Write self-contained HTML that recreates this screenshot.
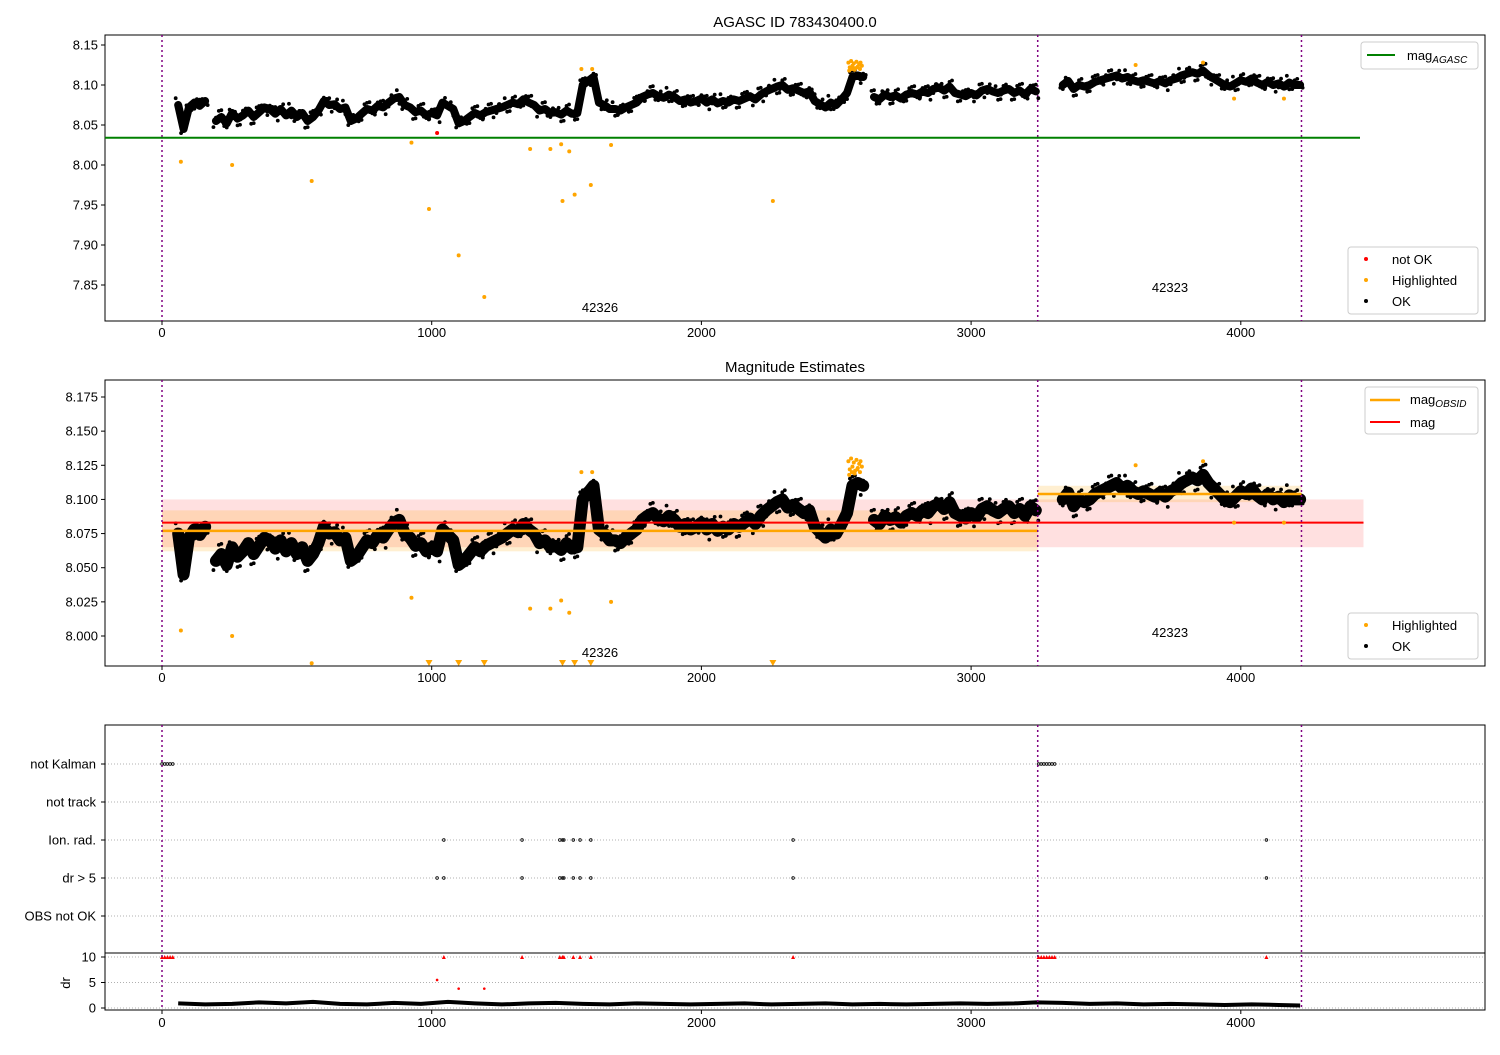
<!DOCTYPE html>
<html><head><meta charset="utf-8"><style>
body{margin:0;background:#fff}
svg text{font-family:"Liberation Sans","DejaVu Sans",sans-serif;fill:#000}
</style></head><body>
<svg id="fig" width="1500" height="1050" xmlns="http://www.w3.org/2000/svg">
<g id="g1"></g>
<g id="g2"></g>
<g id="g3"></g>
</svg>
<script>
const times=[60,80,100,120,140,160,200,220,240,260,280,300,320,340,360,380,400,420,440,460,480,500,520,540,560,580,600,620,640,660,680,700,720,740,760,780,800,820,840,860,880,900,920,940,960,980,1000,1020,1040,1060,1080,1100,1120,1140,1160,1180,1200,1220,1240,1260,1280,1300,1320,1340,1360,1380,1400,1420,1440,1460,1480,1500,1520,1540,1560,1580,1600,1620,1640,1660,1680,1700,1720,1740,1760,1780,1800,1820,1840,1860,1880,1900,1920,1940,1960,1980,2000,2020,2040,2060,2080,2100,2120,2140,2160,2180,2200,2220,2240,2260,2280,2300,2320,2340,2360,2380,2400,2420,2440,2460,2480,2500,2520,2540,2560,2580,2600,2640,2660,2680,2700,2720,2740,2760,2780,2800,2820,2840,2860,2880,2900,2920,2940,2960,2980,3000,3020,3040,3060,3080,3100,3120,3140,3160,3180,3200,3220,3240,3340,3360,3380,3400,3420,3440,3460,3480,3500,3520,3540,3560,3580,3600,3620,3640,3660,3680,3700,3720,3740,3760,3780,3800,3820,3840,3860,3880,3900,3920,3940,3960,3980,4000,4020,4040,4060,4080,4100,4120,4140,4160,4180,4200,4220];
const mags=[8.075,8.045,8.072,8.078,8.074,8.080,8.055,8.060,8.052,8.065,8.058,8.062,8.068,8.060,8.066,8.072,8.070,8.064,8.070,8.062,8.068,8.060,8.065,8.055,8.060,8.068,8.080,8.075,8.076,8.070,8.072,8.055,8.058,8.064,8.070,8.068,8.074,8.072,8.078,8.083,8.085,8.075,8.072,8.066,8.068,8.062,8.065,8.062,8.078,8.074,8.070,8.052,8.055,8.060,8.065,8.062,8.066,8.068,8.070,8.072,8.075,8.078,8.076,8.082,8.078,8.075,8.068,8.070,8.065,8.066,8.063,8.068,8.064,8.065,8.100,8.105,8.110,8.078,8.075,8.070,8.070,8.068,8.072,8.075,8.078,8.085,8.088,8.090,8.086,8.084,8.088,8.085,8.080,8.082,8.078,8.080,8.083,8.078,8.082,8.077,8.080,8.078,8.082,8.080,8.083,8.086,8.082,8.088,8.092,8.095,8.098,8.100,8.094,8.096,8.093,8.090,8.092,8.080,8.076,8.072,8.078,8.075,8.082,8.090,8.110,8.112,8.110,8.085,8.082,8.088,8.085,8.087,8.083,8.088,8.090,8.088,8.092,8.090,8.095,8.097,8.093,8.098,8.090,8.088,8.086,8.090,8.087,8.093,8.095,8.092,8.090,8.093,8.095,8.090,8.093,8.088,8.095,8.092,8.100,8.105,8.095,8.100,8.098,8.100,8.104,8.106,8.108,8.110,8.112,8.108,8.110,8.106,8.104,8.106,8.104,8.102,8.105,8.102,8.106,8.108,8.112,8.114,8.116,8.114,8.118,8.112,8.108,8.104,8.100,8.098,8.102,8.106,8.104,8.108,8.103,8.100,8.104,8.100,8.102,8.098,8.103,8.100,8.100];
const hiT=[70,260,555,925,990,1100,1195,1365,1440,1480,1485,1510,1530,1555,1590,1595,1665,2265,3610,3860,3975,4160,2545,2550,2555,2560,2565,2570,2575,2580,2585,2590,2595,2548,2558,2568,2578,2588];
const hiM=[8.004,8.000,7.980,8.028,7.945,7.887,7.835,8.020,8.020,8.026,7.955,8.017,7.963,8.120,7.975,8.120,8.025,7.955,8.125,8.128,8.083,8.083,8.128,8.122,8.130,8.124,8.127,8.121,8.129,8.123,8.126,8.128,8.124,8.118,8.120,8.119,8.122,8.120];
const notOkT=[1020];
const notOkM=[8.040];
const vlines=[0,3247,4225];
const magAgasc=8.034, magAll=8.083, magAllLo=8.065, magAllHi=8.100;
const obsT0=[0,3247], obsT1=[3247,4225], obsMag=[8.077,8.104], obsLo=[8.062,8.098], obsHi=[8.092,8.110];
const flagCats=["not Kalman","not track","Ion. rad.","dr > 5","OBS not OK"];
const kalmanT=[0,10,20,30,40,3250,3260,3270,3280,3290,3300,3310];
const ionT=[1045,1335,1475,1485,1490,1525,1550,1590,2340,4095];
const dr5T=[1020,1045,1335,1475,1485,1490,1525,1550,1590,2340,4095];
const drClipT=[0,10,20,30,40,1045,1335,1475,1485,1490,1525,1550,1590,2340,3250,3260,3270,3280,3290,3300,3310,4095];
const drRedT=[1020,1100,1195], drRedV=[5.5,3.8,3.8];
const drT=[60,160,260,360,460,560,660,760,860,960,1060,1160,1260,1360,1460,1560,1660,1760,1860,1960,2060,2160,2260,2360,2460,2560,2660,2760,2860,2960,3060,3160,3240,3340,3440,3540,3640,3740,3840,3940,4040,4140,4220];
const drV=[0.9,0.7,0.8,1.1,0.9,1.2,0.8,0.7,1.0,0.8,1.2,0.9,0.7,0.9,1.0,0.8,0.7,0.9,0.8,0.7,0.8,0.9,0.7,0.8,0.9,0.7,0.8,0.7,0.8,0.9,0.8,0.9,1.1,1.0,0.8,0.9,0.7,0.8,0.7,0.6,0.7,0.6,0.5];
const xTicks=[0,1000,2000,3000,4000];
const y1Ticks=[7.85,7.90,7.95,8.00,8.05,8.10,8.15];
const y2Ticks=[8.000,8.025,8.050,8.075,8.100,8.125,8.150,8.175];
const drTicks=[0,5,10];

const NS="http://www.w3.org/2000/svg";
function mk(p,tag,a,txt){const e=document.createElementNS(NS,tag);for(const k in a)e.setAttribute(k,a[k]);if(txt!==undefined)e.textContent=txt;p.appendChild(e);return e;}
const X=t=>162+t*0.2697;
const L=105,R=1485;
function y1(m){return 45+(8.15-m)*800;}
function y2(m){return 397+(8.175-m)*1365.7;}
function yd(v){return 1008-v*5.1;}

function panel(g,top,bot,yf,ticks,dec,title,xlabY){
  if(title){const t=mk(g,'text',{x:795,y:top-8,'text-anchor':'middle','font-size':15},title);}
  ticks.forEach(v=>{const y=yf(v);mk(g,'line',{x1:L-4,x2:L,y1:y,y2:y,stroke:'#000'});const t=mk(g,'text',{x:L-7,y:y+4.5,'text-anchor':'end','font-size':13},v.toFixed(dec));});
  xTicks.forEach(v=>{mk(g,'line',{x1:X(v),x2:X(v),y1:bot,y2:bot+4,stroke:'#000'});const t=mk(g,'text',{x:X(v),y:xlabY,'text-anchor':'middle','font-size':13},String(v));});
}
function frame(g,top,bot){const r=mk(g,'rect',{x:L,y:top,width:R-L,height:bot-top,fill:'none',stroke:'#000','stroke-width':1});}
function vl(g,top,bot){vlines.forEach(t=>{const l=mk(g,'line',{x1:X(t),x2:X(t),y1:top,y2:bot,stroke:'#800080','stroke-width':1.5,'stroke-dasharray':'2,3'});});}
const offs=[-1,0.6,-0.3,1,-0.7,0.2,0.9,-0.9,0.4,-0.5];
function series(g,yf,w){
  let seg=[];const segs=[];
  for(let i=0;i<times.length;i++){if(i>0&&times[i]-times[i-1]>30){segs.push(seg);seg=[];}seg.push([X(times[i]),yf(mags[i])]);}
  segs.push(seg);
  segs.forEach(s=>{const p=mk(g,'polyline',{points:s.map(q=>q.join(',')).join(' '),fill:'none',stroke:'#000','stroke-width':w,'stroke-linejoin':'round','stroke-linecap':'round'});});
  for(let i=0;i<times.length;i++){for(let k=0;k<3;k++){const o=offs[(i+k*3)%10];const c=mk(g,'circle',{cx:X(times[i])+(k-1)*2.5,cy:yf(mags[i])+o*w*0.85,r:1.9,fill:'#000'});}}
}
function legendBox(g,x,y,w,h){mk(g,'rect',{x:x,y:y,width:w,height:h,rx:3,fill:'#fff','fill-opacity':0.85,stroke:'#ccc'});}

// Panel 1
const g1=document.getElementById('g1');
frame(g1,35,321);
panel(g1,35,321,y1,y1Ticks,2,'AGASC ID 783430400.0',337);
vl(g1,35,321);
{const l=mk(g1,'line',{x1:L,x2:1360,y1:y1(magAgasc),y2:y1(magAgasc),stroke:'green','stroke-width':2});}
series(g1,y1,8);
hiT.forEach((t,i)=>{const c=mk(g1,'circle',{cx:X(t),cy:y1(hiM[i]),r:2,fill:'orange'});});
notOkT.forEach((t,i)=>{const c=mk(g1,'circle',{cx:X(t),cy:y1(notOkM[i]),r:2,fill:'red'});});
mk(g1,'text',{x:600,y:312,'text-anchor':'middle','font-size':13},'42326');
mk(g1,'text',{x:1170,y:292,'text-anchor':'middle','font-size':13},'42323');
{const lg=mk(g1,'g',{});
legendBox(lg,1361,42,117,27);mk(lg,'line',{x1:1367,x2:1395,y1:55,y2:55,stroke:'green','stroke-width':2});
const t=mk(lg,'text',{x:1407,y:60,'font-size':13},'mag');mk(t,'tspan',{'font-size':10,'font-style':'italic',dy:3},'AGASC');
const lb=mk(g1,'g',{});
legendBox(lb,1348,247,130,67);
[['red','not OK',260],['orange','Highlighted',281],['#000','OK',302]].forEach(a=>{mk(lb,'circle',{cx:1366,cy:a[2]-1,r:2,fill:a[0]});mk(lb,'text',{x:1392,y:a[2]+4,'font-size':13},a[1]);});}

// Panel 2
const g2=document.getElementById('g2');
{const r=mk(g2,'rect',{x:X(0),y:y2(magAllHi),width:X(4455)-X(0),height:y2(magAllLo)-y2(magAllHi),fill:'red','fill-opacity':0.12});}
obsT0.forEach((t,i)=>{const r=mk(g2,'rect',{x:X(t),y:y2(obsHi[i]),width:X(obsT1[i])-X(t),height:y2(obsLo[i])-y2(obsHi[i]),fill:'orange','fill-opacity':0.18});});
series(g2,y2,12);
obsT0.forEach((t,i)=>{const l=mk(g2,'line',{x1:X(t),x2:X(obsT1[i]),y1:y2(obsMag[i]),y2:y2(obsMag[i]),stroke:'orange','stroke-width':2.5});});
{const l=mk(g2,'line',{x1:X(0),x2:X(4455),y1:y2(magAll),y2:y2(magAll),stroke:'red','stroke-width':2});}
hiT.forEach((t,i)=>{const m=hiM[i];if(m>=7.978){const c=mk(g2,'circle',{cx:X(t),cy:y2(m),r:2,fill:'orange'});}else{const x=X(t);const p=mk(g2,'polygon',{points:`${x-3.5},660 ${x+3.5},660 ${x},666`,fill:'orange'});}});
frame(g2,380,666);
panel(g2,380,666,y2,y2Ticks,3,'Magnitude Estimates',682);
vl(g2,380,666);
mk(g2,'text',{x:600,y:657,'text-anchor':'middle','font-size':13},'42326');
mk(g2,'text',{x:1170,y:637,'text-anchor':'middle','font-size':13},'42323');
{const lg=mk(g2,'g',{});
legendBox(lg,1365,387,113,47);mk(lg,'line',{x1:1370,x2:1400,y1:400,y2:400,stroke:'orange','stroke-width':2.5});mk(lg,'line',{x1:1370,x2:1400,y1:422,y2:422,stroke:'red','stroke-width':2});
const t=mk(lg,'text',{x:1410,y:404,'font-size':13},'mag');mk(t,'tspan',{'font-size':10,'font-style':'italic',dy:3},'OBSID');
mk(lg,'text',{x:1410,y:427,'font-size':13},'mag');
const lb=mk(g2,'g',{});
legendBox(lb,1348,613,130,46);
[['orange','Highlighted',626],['#000','OK',647]].forEach(a=>{mk(lb,'circle',{cx:1366,cy:a[2]-1,r:2,fill:a[0]});mk(lb,'text',{x:1392,y:a[2]+4,'font-size':13},a[1]);});}

// Panel 3
const g3=document.getElementById('g3');
const catY=i=>764+i*38;
flagCats.forEach((c,i)=>{const y=catY(i);mk(g3,'line',{x1:L,x2:R,y1:y,y2:y,stroke:'#b0b0b0','stroke-dasharray':'1,2'});mk(g3,'line',{x1:L-4,x2:L,y1:y,y2:y,stroke:'#000'});const t=mk(g3,'text',{x:96,y:y+4.5,'text-anchor':'end','font-size':13},c);});
drTicks.forEach(v=>{const y=yd(v);mk(g3,'line',{x1:L,x2:R,y1:y,y2:y,stroke:'#b0b0b0','stroke-dasharray':'1,2'});mk(g3,'line',{x1:L-4,x2:L,y1:y,y2:y,stroke:'#000'});const t=mk(g3,'text',{x:96,y:y+4.5,'text-anchor':'end','font-size':13},String(v));});
{const t=mk(g3,'text',{x:70,y:983,'text-anchor':'middle','font-size':13,transform:'rotate(-90 70 983)'},'dr');}
kalmanT.forEach(t=>{mk(g3,'circle',{cx:X(t),cy:catY(0),r:1.3,fill:'none',stroke:'#000','stroke-width':0.8});});
ionT.forEach(t=>{mk(g3,'circle',{cx:X(t),cy:catY(2),r:1.3,fill:'none',stroke:'#000','stroke-width':0.8});});
dr5T.forEach(t=>{mk(g3,'circle',{cx:X(t),cy:catY(3),r:1.3,fill:'none',stroke:'#000','stroke-width':0.8});});
drClipT.forEach(t=>{const x=X(t);mk(g3,'polygon',{points:`${x-2},${yd(10)+2} ${x+2},${yd(10)+2} ${x},${yd(10)-2}`,fill:'red'});});
drRedT.forEach((t,i)=>{mk(g3,'circle',{cx:X(t),cy:yd(drRedV[i]),r:1.3,fill:'red'});});
{let seg=[];const segs=[];drT.forEach((t,i)=>{if(i>0&&t-drT[i-1]>110){segs.push(seg);seg=[];}seg.push(X(t)+','+yd(drV[i]));});segs.push(seg);
segs.forEach(s=>{const p=mk(g3,'polyline',{points:s.join(' '),fill:'none',stroke:'#000','stroke-width':4,'stroke-linejoin':'round'});});}
mk(g3,'line',{x1:L,x2:R,y1:953,y2:953,stroke:'#000'});
frame(g3,725,1010);
xTicks.forEach(v=>{mk(g3,'line',{x1:X(v),x2:X(v),y1:1010,y2:1014,stroke:'#000'});const t=mk(g3,'text',{x:X(v),y:1027,'text-anchor':'middle','font-size':13},String(v));});
vl(g3,725,1010);
</script>
</body></html>
